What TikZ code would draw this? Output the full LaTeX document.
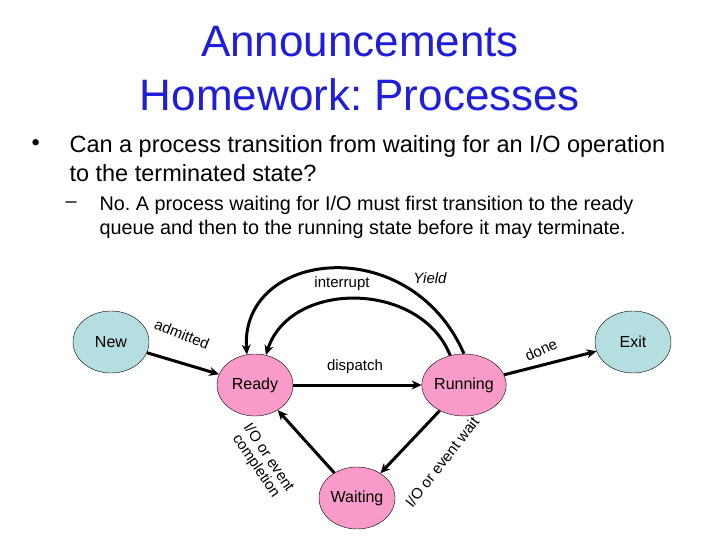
\documentclass[tikz,border=0pt]{standalone}
\usepackage{fontspec}
\setmainfont{Liberation Sans}
\usetikzlibrary{shapes.geometric,arrows.meta}
\definecolor{tblue}{RGB}{30,30,220}
\definecolor{spink}{RGB}{249,155,201}
\definecolor{steal}{RGB}{180,222,224}
\tikzset{
 st/.style={ellipse,draw=black,thin,minimum width=76pt,minimum height=62pt,inner sep=0pt,font=\fontsize{16}{18}\selectfont},
 pinkst/.style={st,fill=spink},
 tealst/.style={st,fill=steal},
 arr/.style={line width=3pt,-{Stealth[length=10pt,width=9pt]}},
 lbl/.style={font=\fontsize{15}{15}\selectfont,inner sep=1pt},
 ttl/.style={font=\fontsize{44}{46}\selectfont,text=tblue},
 bt/.style={font=\fontsize{23.5}{29}\selectfont,anchor=west,align=left},
 sbt/.style={font=\fontsize{19.8}{24}\selectfont,anchor=west,align=left}
}
\begin{document}
\frenchspacing
\begin{tikzpicture}[x=1pt,y=-1pt]
\useasboundingbox[fill=white] (0,0) rectangle (720,540);
\node[ttl] (t1) at (360,42) {Announcements};
\node[ttl] (t2) at (360,95) {Homework: Processes};
\node[bt] (b0) at (28,145) {•};
\node[bt] (b1) at (66,159) {Can a process transition from waiting for an I/O operation\\to the terminated state?};
\node[sbt] (s0) at (62,205) {–};
\node[sbt] (s1) at (96,217) {No. A process waiting for I/O must first transition to the ready\\queue and then to the running state before it may terminate.};
\node[tealst] (new) at (111,342) {New};
\node[tealst] (exit) at (633,342) {Exit};
\node[pinkst] (ready) at (255,385) {Ready};
\node[pinkst] (run) at (464,385) {Running};
\node[pinkst] (wait) at (357,498) {Waiting};
\draw[arr] (new) -- (ready);
\draw[arr] (ready) -- (run);
\draw[arr] (run) -- (exit);
\draw[arr] (run) -- (wait);
\draw[arr] (wait) -- (ready);
\draw[arr] (run.115) .. controls (420,280) and (290,280) .. (ready.70);
\draw[arr] (run.90) .. controls (410,230) and (240,250) .. (ready.105);
\node[lbl,rotate=-22] (adm) at (182,334) {admitted};
\node[lbl] (disp) at (355,367) {dispatch};
\node[lbl,rotate=25] (done) at (541,350) {done};
\node[lbl,rotate=52] (wl) at (442,462) {I/O or event wait};
\node[lbl,rotate=-56,align=center] (cl) at (262,462) {I/O or event\\completion};
\node[lbl] (intl) at (342,284) {interrupt};
\node[lbl,font=\fontsize{15}{16}\selectfont\itshape] (yl) at (430,278) {Yield};
\end{tikzpicture}
\end{document}
